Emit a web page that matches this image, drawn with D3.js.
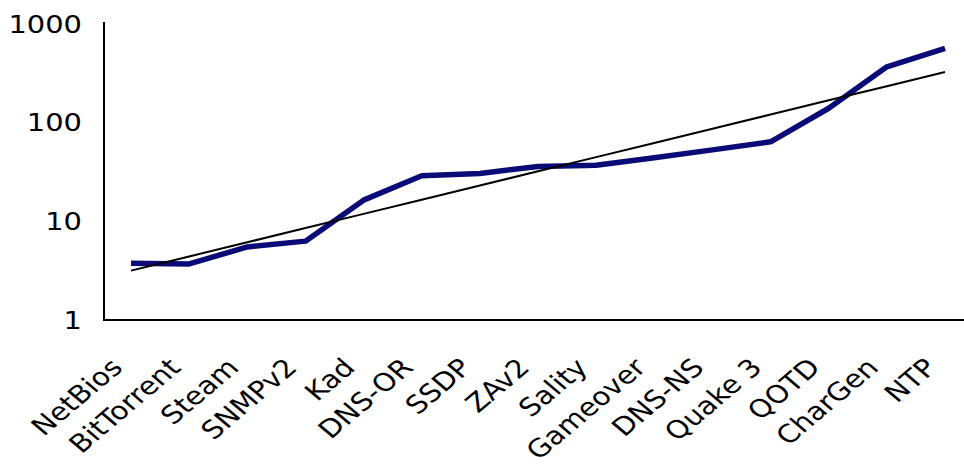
<!DOCTYPE html>
<html>
<head>
<meta charset="utf-8">
<script src="https://cdn.jsdelivr.net/npm/d3@7"></script>
<style>
  body { margin: 0; background: #fff; }
  svg { display: block; font-family: "DejaVu Sans", Verdana, sans-serif; }
</style>
</head>
<body>
<div id="chart"></div>
<script>
// categories along the x axis
var protocols = ['NetBios', 'BitTorrent', 'Steam', 'SNMPv2', 'Kad', 'DNS-OR', 'SSDP', 'ZAv2',
    'Sality', 'Gameover', 'DNS-NS', 'Quake 3', 'QOTD', 'CharGen', 'NTP'];
// values
var factors = [3.75, 3.7, 5.5, 6.3, 16.4, 29, 30.6, 36, 37, 44, 53, 64, 140, 368, 566];
// y tick labels
var yTicks = [1, 10, 100, 1000];

var width = 964, height = 466;
// the original picture is a little stretched sideways, so is its lettering
var stretch = 1.18;

var svg = d3.select('#chart')
    .append('svg')
    .attr('width', width)
    .attr('height', height);

var x = d3.scalePoint()
    .domain(protocols)
    .range([131, 945]);

var y = d3.scaleLog()
    .domain([1, 1000])
    .range([320, 24]);

// exponential trendline: least squares fit on log10 of values
var n = factors.length;
var logs = factors.map(function (d) { return Math.log10(d); });
var mx = d3.mean(d3.range(n));
var my = d3.mean(logs);
var sxy = 0, sxx = 0;
for (var i = 0; i < n; i++) {
    sxy += (i - mx) * (logs[i] - my);
    sxx += (i - mx) * (i - mx);
}
var slope = sxy / sxx;
var trend = d3.range(n).map(function (i) {
    return Math.pow(10, my + slope * (i - mx));
});

// axes
svg.append('line')
    .attr('x1', 104).attr('x2', 104)
    .attr('y1', 22).attr('y2', y(1))
    .attr('stroke', '#000')
    .attr('stroke-width', 2);

svg.append('line')
    .attr('x1', 103).attr('x2', width)
    .attr('y1', y(1)).attr('y2', y(1))
    .attr('stroke', '#000')
    .attr('stroke-width', 2);

svg.selectAll('.ylabel')
    .data(yTicks)
    .enter()
    .append('text')
    .attr('class', 'ylabel')
    .attr('text-anchor', 'end')
    .attr('dy', '0.36em')
    .attr('transform', function (d) {
        return 'translate(82,' + y(d) + ') scale(' + stretch + ',1)';
    })
    .style('font-size', '24.5px')
    .text(function (d) { return d; });

svg.selectAll('.xlabel')
    .data(protocols)
    .enter()
    .append('text')
    .attr('class', 'xlabel')
    .attr('text-anchor', 'end')
    .attr('transform', function (d) {
        return 'translate(' + (x(d) - 7) + ',369) scale(' + stretch + ',1) rotate(-45)';
    })
    .style('font-size', '25px')
    .text(function (d) { return d; });

// data line
var line = d3.line()
    .x(function (d, i) { return x(protocols[i]); })
    .y(function (d) { return y(d); });

svg.append('path')
    .datum(factors)
    .attr('d', line)
    .attr('fill', 'none')
    .attr('stroke', '#0b0b78')
    .attr('stroke-width', 5.5)
    .attr('stroke-linejoin', 'round');

svg.append('path')
    .datum(trend)
    .attr('d', line)
    .attr('fill', 'none')
    .attr('stroke', '#000')
    .attr('stroke-width', 2);
</script>
</body>
</html>
